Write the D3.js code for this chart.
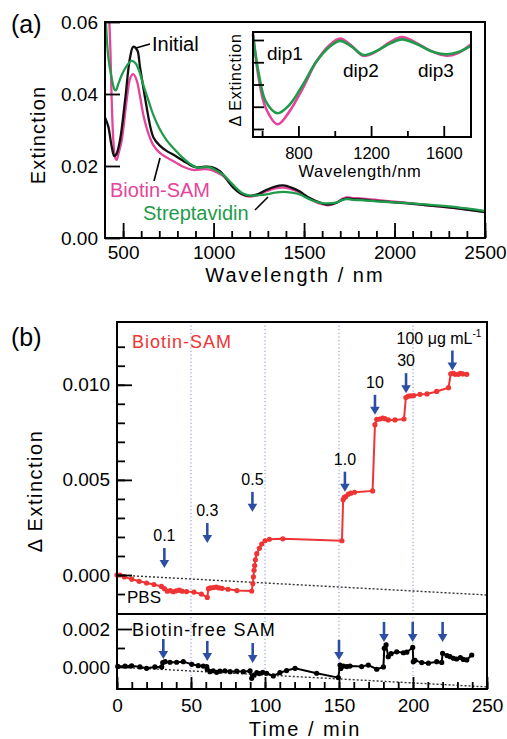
<!DOCTYPE html>
<html><head><meta charset="utf-8">
<script src="https://cdn.jsdelivr.net/npm/d3@7"></script>
<style>
html,body{margin:0;padding:0;background:#fff;}
svg{display:block;}
</style></head><body>
<svg id="fig" width="507" height="739"></svg>
<script>
// ---------- Panel (a): extinction spectra ----------
const wlInitial  = [400,418,437,451,462,483,511,538,556,578,593,620,650,667,700,740,790,833,870,906,950,990,1035,1070,1109,1150,1200,1250,1293,1340,1385,1430,1477,1520,1560,1600,1630,1680,1710,1735,1770,1809,1900,2000,2100,2200,2300,2400,2500];
const extInitial = [0.0335,0.031,0.0254,0.0228,0.0232,0.0272,0.0383,0.050,0.0531,0.0522,0.0476,0.0393,0.031,0.0280,0.0258,0.0242,0.0228,0.0214,0.0203,0.0196,0.0198,0.0197,0.0186,0.0165,0.0140,0.0124,0.0117,0.0123,0.0134,0.0143,0.0146,0.0140,0.0129,0.0114,0.0104,0.0096,0.0093,0.0098,0.0106,0.0110,0.0108,0.0107,0.0103,0.0099,0.0095,0.0090,0.0085,0.0079,0.0072];

const wlBiotin  = [405,415,424,430,437,446,455,464,475,492,520,540,556,575,593,612,640,667,700,740,790,833,888,940,980,1020,1054,1090,1127,1160,1200,1250,1293,1340,1385,1430,1477,1520,1560,1600,1630,1680,1710,1735,1770,1809,1900,2000,2100,2200,2300,2400,2500];
const extBiotin = [0.080,0.070,0.060,0.052,0.0383,0.0272,0.0225,0.0217,0.0235,0.027,0.0383,0.0445,0.0455,0.0438,0.0395,0.0342,0.029,0.0258,0.0238,0.0224,0.0210,0.0198,0.0189,0.0191,0.0190,0.0182,0.0172,0.0152,0.0133,0.0120,0.0115,0.0120,0.0130,0.0138,0.0140,0.0136,0.0126,0.0112,0.0101,0.0094,0.0091,0.0098,0.0108,0.0113,0.0111,0.0110,0.0106,0.0101,0.0096,0.0090,0.0085,0.0079,0.0073];

const wlStrept  = [400,405,418,437,452,460,475,492,520,547,570,590,612,640,667,700,740,790,833,870,906,950,980,1020,1054,1090,1127,1160,1200,1250,1300,1340,1385,1430,1477,1520,1560,1600,1630,1680,1710,1735,1770,1809,1900,2000,2100,2200,2300,2400,2500];
const extStrept = [0.068,0.060,0.0504,0.0444,0.0413,0.0410,0.0430,0.0452,0.0478,0.0492,0.0485,0.0462,0.0425,0.0382,0.0342,0.0305,0.0272,0.0243,0.0221,0.0206,0.0196,0.0197,0.0196,0.0186,0.0175,0.0157,0.0138,0.0124,0.0118,0.0119,0.0122,0.0126,0.0128,0.0126,0.0121,0.0110,0.0102,0.0097,0.0096,0.0099,0.0105,0.0108,0.0106,0.0105,0.0102,0.0099,0.0096,0.0092,0.0088,0.0082,0.0075];

const wlTicksMajor = [500,1000,1500,2000,2500];
const extTicks = [0,0.02,0.04,0.06];

// Inset: extinction change spectra
const wlInset      = [550,583,621,685,750,824,898,972,1030,1093,1157,1231,1306,1370,1454,1528,1615,1676,1750];
const dExtBiotin   = [0.00030,-0.0018,-0.00307,-0.00379,-0.00322,-0.00217,-0.00098,-0.00022,0.00006,-0.00026,-0.00071,-0.00050,-0.00008,0.00013,-0.00015,-0.00049,-0.00071,-0.00060,-0.00019];
const dExtStrept   = [0.00022,-0.00157,-0.00277,-0.00329,-0.00292,-0.00202,-0.00098,-0.00030,-0.00004,-0.00030,-0.00067,-0.00049,-0.00015,0.00003,-0.00019,-0.00049,-0.00064,-0.00055,-0.00026];
const insetTicksMajor = [800,1200,1600];
const insetTicksMinor = [600,1000,1400];
const insetYTicks = [0,-0.001,-0.002,-0.003,-0.004];
const dipNames = ["dip1","dip2","dip3"];

// ---------- Panel (b): time course ----------
const timeBiotin = [0,2,5,10,15,20,25,30,32,34,36,38,40,42,44,47,52,57,61,61.8,63,65,67,69,71,75,81,91,91.8,92.2,92.6,93,93.5,94.4,96.2,97.8,100,103,112,152,152.8,153.5,154.5,156.3,158,160.5,172.7,174.3,175.5,177.5,179.5,181,183.3,187.8,193.9,195.2,196.8,198.5,200.5,204.7,209.5,216,224,225.5,227.3,228.5,230.6,232,233.6,236.3];
const dExtTimeBiotin = [0,0,-0.0001,-0.00022,-0.00033,-0.00042,-0.0005,-0.0006,-0.00072,-0.00085,-0.00082,-0.00088,-0.00083,-0.0008,-0.00085,-0.00087,-0.0009,-0.001,-0.00118,-0.00072,-0.00068,-0.00066,-0.00064,-0.00068,-0.0007,-0.00075,-0.00082,-0.00084,-0.00045,-0.0001,0.00025,0.0005,0.0008,0.00112,0.0014,0.00163,0.0018,0.00188,0.0019,0.0018,0.00395,0.00408,0.00412,0.00425,0.0043,0.00435,0.00442,0.0079,0.00818,0.0082,0.00825,0.00822,0.00815,0.00815,0.0082,0.00933,0.0094,0.00942,0.00943,0.0095,0.00952,0.00965,0.00985,0.01058,0.0106,0.01055,0.01055,0.0106,0.01057,0.01055];

const timeFree = [0.5,5.4,9.9,15.5,20,25.6,30.2,30.9,32.5,35.8,40.3,44.8,50.5,54.9,58.3,60.6,61,62.8,65,67.3,69.5,72.9,76.4,80.9,85.4,89.9,91,92.6,94.4,96.2,98.5,101.1,105.6,110.1,114.6,120.3,134.9,149.5,150.7,151.2,153,155.3,157.4,165.3,169.8,175.5,180,180.6,181.8,183.3,185.2,189,193.5,195.8,199.8,200.2,201.4,205.9,210.4,216,219.4,220,223,225,227.3,229.5,232,234,236.3,239.7];
const dExtTimeFree = [0.00003,0.00005,0.00006,0,-0.00007,0,0,0.00023,0.00028,0.00025,0.00025,0.00028,0.00014,0.00007,0.00005,0.00002,-0.00012,-0.00025,-0.0002,-0.00028,-0.00022,-0.0002,-0.00025,-0.00022,-0.00025,-0.00021,-0.0006,-0.00043,-0.0003,-0.00035,-0.00028,-0.00033,-0.00047,-0.0003,-0.00019,-0.00007,-0.00033,-0.00056,0.0001,-0.00008,0.00005,0.00002,0.00005,0.00002,0.0001,-0.00012,0,0.00098,0.00116,0.00054,0.0007,0.0008,0.00075,0.00078,0.00103,0.00028,0.00035,0.00023,0.0002,0.00028,0.00024,0.00072,0.0006,0.00055,0.00046,0.00042,0.0005,0.0004,0.00037,0.00063];

// Baseline drift (PBS only)
const driftTime = [0,250];
const driftValue = [0,-0.00105];

const injectionTimes = [50,100,150,200];
const doseTimes  = [32,61,91.5,154,174.3,195.3,226.6];
const doseLabels = ["0.1","0.3","0.5","1.0","10","30","100 μg mL"];
const doseArrowTips = [0.00037,0.00168,0.00332,0.00438,0.00842,0.00956,0.01075];
const freeArrowTimes = [31.3,61,91.7,150,180.4,199.8,220];
const freeArrowTips  = [0.00042,0.00032,0.00021,0.00037,0.00132,0.00132,0.00132];

const timeTicks = [0,50,100,150,200,250];
const upperYTicks = [0,0.005,0.010];
const lowerYTicks = [0,0.002];

// ---------- drawing ----------
const FONT = '"Liberation Sans", Arial, sans-serif';
const svg = d3.select("#fig").attr("font-family", FONT);
const PINK = "#e5449a", GREEN = "#1f9b4b", RED = "#ee3434", BLUE = "#2c4fa3";

function styleAxis(g, size) {
  g.select(".domain").remove();
  g.attr("font-size", size).attr("font-family", FONT);
  g.selectAll("line").attr("stroke", "#000").attr("stroke-width", 1.8);
  g.selectAll("text").attr("fill", "#000");
}

// ----- panel (a) -----
const xA = d3.scaleLinear().domain([400, 2500]).range([105, 485]);
const yA = d3.scaleLinear().domain([0, 0.06]).range([238, 22]);

svg.append("clipPath").attr("id", "clipA")
  .append("rect").attr("x", 105).attr("y", 22).attr("width", 380).attr("height", 216);

const lineA = d3.line().x(d => xA(d[0])).y(d => yA(d[1])).curve(d3.curveCatmullRom.alpha(0.5));
const seriesA = [
  {w: wlBiotin, v: extBiotin, c: PINK},
  {w: wlInitial, v: extInitial, c: "#111"},
  {w: wlStrept, v: extStrept, c: GREEN}
];
const gA = svg.append("g").attr("clip-path", "url(#clipA)");
seriesA.forEach(s => {
  gA.append("path").datum(d3.zip(s.w, s.v)).attr("d", lineA)
    .attr("fill", "none").attr("stroke", s.c).attr("stroke-width", 2.3).attr("stroke-linejoin", "round");
});

svg.append("g").attr("transform", "translate(0,238)")
  .call(d3.axisBottom(xA).tickValues(d3.range(500, 2501, 100)).tickSize(-7).tickFormat(""))
  .call(g => styleAxis(g, 19));
svg.append("g").attr("transform", "translate(0,238)")
  .call(d3.axisBottom(xA).tickValues(wlTicksMajor).tickSize(-15).tickPadding(8).tickFormat(d3.format("d")))
  .call(g => styleAxis(g, 19));
svg.append("g").attr("transform", "translate(105,0)")
  .call(d3.axisLeft(yA).tickValues(extTicks).tickSize(-15).tickPadding(7).tickFormat(d3.format(".2f")))
  .call(g => styleAxis(g, 19));
svg.append("rect").attr("x", 105).attr("y", 22).attr("width", 380).attr("height", 216)
  .attr("fill", "none").attr("stroke", "#000").attr("stroke-width", 2);

// annotation labels in (a)
svg.append("text").attr("x", 152).attr("y", 51).attr("font-size", 20).text("Initial");
svg.append("line").attr("x1", 136).attr("y1", 48).attr("x2", 150).attr("y2", 44).attr("stroke", "#000").attr("stroke-width", 1.6);
svg.append("text").attr("x", 110).attr("y", 197).attr("font-size", 20).attr("fill", PINK).text("Biotin-SAM");
svg.append("line").attr("x1", 154).attr("y1", 181).attr("x2", 160).attr("y2", 158).attr("stroke", "#000").attr("stroke-width", 1.6);
svg.append("text").attr("x", 143).attr("y", 220).attr("font-size", 20).attr("fill", GREEN).text("Streptavidin");
svg.append("line").attr("x1", 255).attr("y1", 210).attr("x2", 268).attr("y2", 197).attr("stroke", "#000").attr("stroke-width", 1.6);

svg.append("text").attr("x", 11).attr("y", 33).attr("font-size", 25).text("(a)");
svg.append("text").attr("transform", "translate(45,135) rotate(-90)").attr("text-anchor", "middle")
  .attr("font-size", 20).attr("letter-spacing", 1.2).text("Extinction");
svg.append("text").attr("x", 295).attr("y", 282).attr("text-anchor", "middle")
  .attr("font-size", 20).attr("letter-spacing", 2).text("Wavelength / nm");

// ----- inset -----
const xI = d3.scaleLinear().domain([550, 1750]).range([253, 471]);
const yI = d3.scaleLinear().domain([0.00036, -0.00436]).range([32, 137]);
svg.append("rect").attr("x", 253).attr("y", 32).attr("width", 218).attr("height", 105).attr("fill", "#fff");
const lineI = d3.line().x(d => xI(d[0])).y(d => yI(d[1])).curve(d3.curveCatmullRom.alpha(0.5));
svg.append("path").datum(d3.zip(wlInset, dExtBiotin)).attr("d", lineI)
  .attr("fill", "none").attr("stroke", PINK).attr("stroke-width", 2.6);
svg.append("path").datum(d3.zip(wlInset, dExtStrept)).attr("d", lineI)
  .attr("fill", "none").attr("stroke", GREEN).attr("stroke-width", 2.6);

svg.append("g").attr("transform", "translate(0,137)")
  .call(d3.axisBottom(xI).tickValues(insetTicksMinor).tickSize(-6).tickFormat(""))
  .call(g => styleAxis(g, 16));
svg.append("g").attr("transform", "translate(0,137)")
  .call(d3.axisBottom(xI).tickValues(insetTicksMajor).tickSize(-11).tickPadding(10).tickFormat(d3.format("d")))
  .call(g => styleAxis(g, 16.5));
svg.append("g").attr("transform", "translate(253,0)")
  .call(d3.axisLeft(yI).tickValues(insetYTicks).tickSize(-11).tickFormat(""))
  .call(g => styleAxis(g, 16));
svg.append("rect").attr("x", 253).attr("y", 32).attr("width", 218).attr("height", 105)
  .attr("fill", "none").attr("stroke", "#000").attr("stroke-width", 2);

const dipPos = [[267, 60], [343, 77], [418, 77]];
dipNames.forEach((n, i) => svg.append("text").attr("x", dipPos[i][0]).attr("y", dipPos[i][1]).attr("font-size", 19).text(n));
svg.append("text").attr("transform", "translate(241,80) rotate(-90)").attr("text-anchor", "middle")
  .attr("font-size", 16).attr("letter-spacing", 0.8).text("Δ Extinction");
svg.append("text").attr("x", 360).attr("y", 177).attr("text-anchor", "middle")
  .attr("font-size", 16.5).attr("letter-spacing", 0.7).text("Wavelength/nm");

// ----- panel (b) -----
const xB = d3.scaleLinear().domain([0, 250]).range([117, 487]);
const yU = d3.scaleLinear().domain([-0.00205, 0.0133]).range([614, 322]);
const yL = d3.scaleLinear().domain([-0.00116, 0.00279]).range([689, 614]);

// injection markers
injectionTimes.forEach(t => {
  svg.append("line").attr("x1", xB(t)).attr("x2", xB(t)).attr("y1", 322).attr("y2", 689)
    .attr("stroke", "#7b90d6").attr("stroke-width", 1).attr("stroke-dasharray", "1.2,2.4");
});
// drift baselines
const driftPts = d3.zip(driftTime, driftValue);
[yU, yL].forEach(y => {
  svg.append("path").datum(driftPts).attr("d", d3.line().x(d => xB(d[0])).y(d => y(d[1])))
    .attr("fill", "none").attr("stroke", "#333").attr("stroke-width", 1.4).attr("stroke-dasharray", "2,2");
});

// Biotin-SAM trace
const ptsU = d3.zip(timeBiotin, dExtTimeBiotin);
svg.append("path").datum(ptsU).attr("d", d3.line().x(d => xB(d[0])).y(d => yU(d[1])))
  .attr("fill", "none").attr("stroke", RED).attr("stroke-width", 2);
svg.append("g").selectAll("circle").data(ptsU).join("circle")
  .attr("cx", d => xB(d[0])).attr("cy", d => yU(d[1])).attr("r", 2.6).attr("fill", RED);

// Biotin-free SAM trace
const ptsL = d3.zip(timeFree, dExtTimeFree);
svg.append("path").datum(ptsL).attr("d", d3.line().x(d => xB(d[0])).y(d => yL(d[1])))
  .attr("fill", "none").attr("stroke", "#000").attr("stroke-width", 2);
svg.append("g").selectAll("circle").data(ptsL).join("circle")
  .attr("cx", d => xB(d[0])).attr("cy", d => yL(d[1])).attr("r", 2.6).attr("fill", "#000");

// arrows
function arrow(x, tipY) {
  const len = 20, head = 8, hw = 4.8;
  svg.append("line").attr("x1", x).attr("x2", x).attr("y1", tipY - len).attr("y2", tipY - head + 1)
    .attr("stroke", BLUE).attr("stroke-width", 2.6);
  svg.append("path").attr("d", `M${x - hw},${tipY - head}L${x + hw},${tipY - head}L${x},${tipY}Z`).attr("fill", BLUE);
}
doseTimes.forEach((t, i) => {
  const x = xB(t), tip = yU(doseArrowTips[i]);
  arrow(x, tip);
  const txt = svg.append("text").attr("y", tip - 27).attr("font-size", 16);
  if (i === doseTimes.length - 1) {
    txt.attr("x", x + 29).attr("text-anchor", "end").text(doseLabels[i]);
    txt.append("tspan").attr("font-size", 10).attr("dy", -7).text("-1");
  } else {
    txt.attr("x", x).attr("text-anchor", "middle").text(doseLabels[i]);
  }
});
freeArrowTimes.forEach((t, i) => arrow(xB(t), yL(freeArrowTips[i])));

// axes (b)
svg.append("g").attr("transform", "translate(117,0)")
  .call(d3.axisLeft(yU).tickValues(d3.range(-1, 13).map(k => k * 0.001)).tickSize(-8).tickFormat(""))
  .call(g => styleAxis(g, 19));
svg.append("g").attr("transform", "translate(117,0)")
  .call(d3.axisLeft(yU).tickValues(upperYTicks).tickSize(-15).tickPadding(7).tickFormat(d3.format(".3f")))
  .call(g => styleAxis(g, 19));
svg.append("g").attr("transform", "translate(117,0)")
  .call(d3.axisLeft(yL).tickValues([0.001]).tickSize(-8).tickFormat(""))
  .call(g => styleAxis(g, 19));
svg.append("g").attr("transform", "translate(117,0)")
  .call(d3.axisLeft(yL).tickValues(lowerYTicks).tickSize(-15).tickPadding(7).tickFormat(d3.format(".3f")))
  .call(g => styleAxis(g, 19));
svg.append("g").attr("transform", "translate(0,689)")
  .call(d3.axisBottom(xB).tickValues(d3.range(0, 251, 10)).tickSize(-7).tickFormat(""))
  .call(g => styleAxis(g, 19));
svg.append("g").attr("transform", "translate(0,689)")
  .call(d3.axisBottom(xB).tickValues(timeTicks).tickSize(-12).tickPadding(10).tickFormat(d3.format("d")))
  .call(g => styleAxis(g, 19));

svg.append("rect").attr("x", 117).attr("y", 322).attr("width", 370).attr("height", 367)
  .attr("fill", "none").attr("stroke", "#000").attr("stroke-width", 2);
svg.append("line").attr("x1", 117).attr("x2", 487).attr("y1", 614).attr("y2", 614)
  .attr("stroke", "#000").attr("stroke-width", 2);

svg.append("text").attr("x", 11).attr("y", 346).attr("font-size", 25).text("(b)");
svg.append("text").attr("x", 132).attr("y", 348).attr("font-size", 18).attr("letter-spacing", 1).attr("fill", RED).text("Biotin-SAM");
svg.append("text").attr("x", 132).attr("y", 636).attr("font-size", 18).attr("letter-spacing", 1.2).text("Biotin-free SAM");
svg.append("text").attr("x", 127).attr("y", 603).attr("font-size", 17).text("PBS");
svg.append("text").attr("transform", "translate(42,491) rotate(-90)").attr("text-anchor", "middle")
  .attr("font-size", 20).attr("letter-spacing", 1.5).text("Δ Extinction");
svg.append("text").attr("x", 305).attr("y", 736).attr("text-anchor", "middle")
  .attr("font-size", 20).attr("letter-spacing", 2).text("Time / min");
</script>
</body></html>
